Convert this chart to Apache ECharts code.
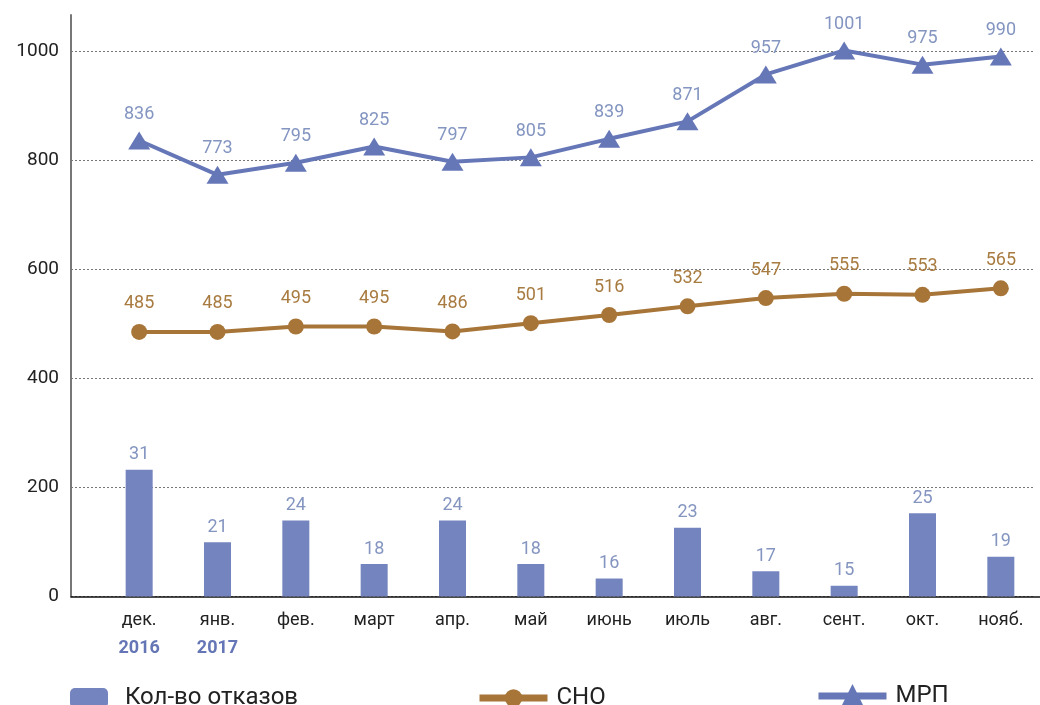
<!DOCTYPE html>
<html><head><meta charset="utf-8">
<script src="https://cdn.jsdelivr.net/npm/echarts@6/dist/echarts.min.js"></script>
<style>html,body{margin:0;padding:0;background:#fff}#c{width:1040px;height:705px}</style>
</head><body><div id="c"></div>
<script>
const months = ['дек.', 'янв.', 'фев.', 'март', 'апр.', 'май', 'июнь', 'июль', 'авг.', 'сент.', 'окт.', 'нояб.'];
const years = ['2016', '2017', '', '', '', '', '', '', '', '', '', ''];
const refusals = [31, 21, 24, 18, 24, 18, 16, 23, 17, 15, 25, 19];
const sno = [485, 485, 495, 495, 486, 501, 516, 532, 547, 555, 553, 565];
const mrp = [836, 773, 795, 825, 797, 805, 839, 871, 957, 1001, 975, 990];
const yTicks = [0, 200, 400, 600, 800, 1000];

const FONT = 'Roboto';
const chart = echarts.init(document.getElementById('c'), null, {renderer: 'canvas'});
const option = {
  animation: false,
  textStyle: {fontFamily: FONT},
  grid: [
    {left: 100, right: -6, top: 51, bottom: 108.5},
    {left: 71, right: 5, top: 51, bottom: 108.5},
    {left: 71, right: 0, top: 15, bottom: 108.5}
  ],
  legend: [
    {data: ['Кол-во отказов'], left: 70, top: 686, padding: 0, itemWidth: 38, itemHeight: 20,
     textStyle: {fontSize: 24, color: '#222', fontFamily: FONT, padding: [0, 0, 0, 12]}},
    {data: ['СНО'], left: 476, top: 686, padding: 0, itemWidth: 68, itemHeight: 22,
     lineStyle: {width: 7},
     textStyle: {fontSize: 24, color: '#222', fontFamily: FONT, padding: [0, 0, 0, 4]}},
    {data: ['МРП'], left: 815, top: 684, padding: 0, itemWidth: 68, itemHeight: 30,
     lineStyle: {width: 7},
     textStyle: {fontSize: 24, color: '#222', fontFamily: FONT, padding: [0, 0, 0, 4]}}
  ],
  xAxis: [
    {gridIndex: 0, type: 'category', data: months,
     axisLine: {show: false}, axisTick: {show: false},
     axisLabel: {
       interval: 0, margin: 10, fontSize: 18, color: '#222', fontFamily: FONT, lineHeight: 28,
       formatter: function (v, i) { return years[i] ? v + '\n{y|' + years[i] + '}' : v; },
       rich: {y: {fontSize: 18, fontWeight: 'bold', color: '#6576b6', fontFamily: FONT, lineHeight: 28}}
     }},
    {gridIndex: 1, type: 'value', show: false},
    {gridIndex: 2, type: 'value', axisLine: {show: true, lineStyle: {color: '#111', width: 1.5}},
     axisTick: {show: false}, axisLabel: {show: false}, splitLine: {show: false}}
  ],
  yAxis: [
    {gridIndex: 0, type: 'value', min: 0, max: 1000, show: false},
    {gridIndex: 0, type: 'value', min: 13.52, max: 88.76, show: false},
    {gridIndex: 1, type: 'value', min: yTicks[0], max: yTicks[yTicks.length - 1], interval: 200,
     axisLine: {show: false}, axisTick: {show: false},
     axisLabel: {margin: 12, fontSize: 19, color: '#222', fontFamily: FONT,
                 formatter: function (v) { return String(v); }},
     splitLine: {show: true, lineStyle: {color: '#777', type: [2, 2], width: 1}}},
    {gridIndex: 2, type: 'value', min: 0, max: 1,
     axisLine: {show: true, lineStyle: {color: '#777', width: 2}},
     axisTick: {show: false}, axisLabel: {show: false}, splitLine: {show: false}}
  ],
  series: [
    {name: 'Кол-во отказов', type: 'bar', xAxisIndex: 0, yAxisIndex: 1, data: refusals,
     barWidth: 27, itemStyle: {color: '#7484bf'},
     label: {show: true, position: 'top', distance: 6, fontSize: 18, color: '#8495c0', fontFamily: FONT}},
    {name: 'СНО', type: 'line', xAxisIndex: 0, yAxisIndex: 0, data: sno, clip: false,
     symbol: 'circle', symbolSize: 16, lineStyle: {width: 4, color: '#a87538'},
     itemStyle: {color: '#a87538'},
     label: {show: true, position: 'top', distance: 11, fontSize: 18, color: '#a87b40', fontFamily: FONT}},
    {name: 'МРП', type: 'line', xAxisIndex: 0, yAxisIndex: 0, data: mrp, z: 3, clip: false,
     symbol: 'triangle', symbolSize: [22, 18], lineStyle: {width: 4, color: '#6677b8'},
     itemStyle: {color: '#6677b8'},
     label: {show: true, position: 'top', distance: 8, fontSize: 18, color: '#8395c0', fontFamily: FONT}}
  ]
};
chart.setOption(option);
</script>
</body></html>
